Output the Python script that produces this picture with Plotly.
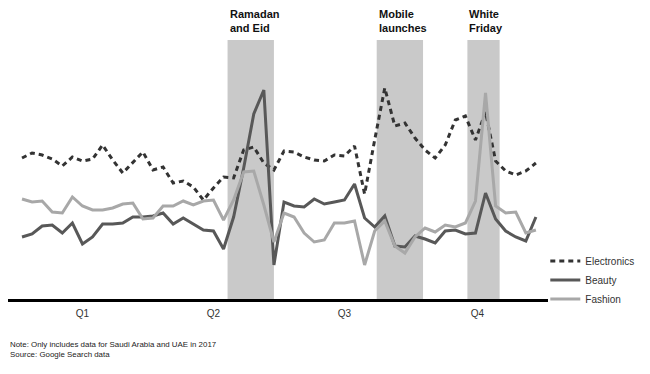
import plotly.graph_objects as go

weeks = list(range(52))

electronics = [141, 146, 144, 140, 133, 142, 138, 140, 154, 139,
               126, 137, 147, 129, 132, 116, 118, 112, 99, 111,
               122, 121, 149, 152, 136, 129, 148, 147, 142, 139,
               138, 144, 143, 153, 105, 159, 211, 173, 176, 161,
               149, 141, 154, 179, 183, 159, 187, 138, 128, 124,
               128, 136]

beauty = [62, 65, 73, 74, 66, 76, 55, 62, 75, 75,
          76, 82, 82, 83, 86, 75, 81, 75, 69, 68,
          50, 82, 131, 185, 209, 34, 97, 93, 92, 100,
          95, 97, 99, 115, 81, 72, 83, 53, 52, 63,
          60, 56, 68, 69, 65, 66, 106, 80, 68, 62,
          58, 82]

fashion = [100, 97, 98, 87, 86, 102, 93, 89, 89, 91,
           95, 96, 80, 81, 93, 93, 98, 94, 98, 99,
           79, 99, 127, 128, 94, 57, 86, 82, 66, 57,
           59, 76, 76, 78, 34, 68, 78, 53, 46, 62,
           71, 67, 74, 72, 76, 98, 206, 93, 86, 87,
           66, 69]

quarter_labels = ["Q1", "Q2", "Q3", "Q4"]
quarter_weeks = [6, 19, 32, 45.2]

events = ["Ramadan<br>and Eid", "Mobile<br>launches", "White<br>Friday"]
event_start = [20.4, 35.2, 44.2]
event_end = [25.0, 39.8, 47.4]

font = "Liberation Sans, Arial, sans-serif"

fig = go.Figure()

fig.add_trace(go.Scatter(x=weeks, y=electronics, name="Electronics", mode="lines",
                         line=dict(color="#333333", width=3, dash="5px,4px")))
fig.add_trace(go.Scatter(x=weeks, y=beauty, name="Beauty", mode="lines",
                         line=dict(color="#585858", width=3)))
fig.add_trace(go.Scatter(x=weeks, y=fashion, name="Fashion", mode="lines",
                         line=dict(color="#a8a8a8", width=3)))

for label, s, e in zip(events, event_start, event_end):
    fig.add_shape(type="rect", xref="x", yref="paper", x0=s, x1=e, y0=0, y1=1,
                  fillcolor="#c9c9c9", line=dict(width=0), layer="below")
    fig.add_annotation(text="<b>" + label + "</b>", xref="x", yref="paper",
                       x=s, y=1.13, xanchor="left", yanchor="top", align="left",
                       showarrow=False, font=dict(size=11, color="#111111", family=font))

fig.add_annotation(text="Note: Only includes data for Saudi Arabia and UAE in 2017<br>Source: Google Search data",
                   xref="paper", yref="paper", x=0, y=-0.152, xanchor="left", yanchor="top",
                   align="left", showarrow=False,
                   font=dict(size=7.9, color="#222222", family=font))

fig.update_layout(
    width=642, height=366,
    margin=dict(l=0, r=102, t=32, b=75),
    paper_bgcolor="white", plot_bgcolor="white",
    font=dict(family=font, size=10, color="#333333"),
    xaxis=dict(range=[-1.39, 52.2], showgrid=False, zeroline=False,
               showline=True, linecolor="black", linewidth=3,
               tickvals=quarter_weeks, ticktext=quarter_labels, ticks="",
               ticklabelstandoff=3,
               tickfont=dict(size=10, color="#333333")),
    yaxis=dict(range=[0, 259], visible=False, showgrid=False, zeroline=False),
    legend=dict(x=0.995, y=0.203, xanchor="left", yanchor="top",
                font=dict(size=10, color="#333333"), bgcolor="rgba(0,0,0,0)"),
)

fig.write_html("out.html")
